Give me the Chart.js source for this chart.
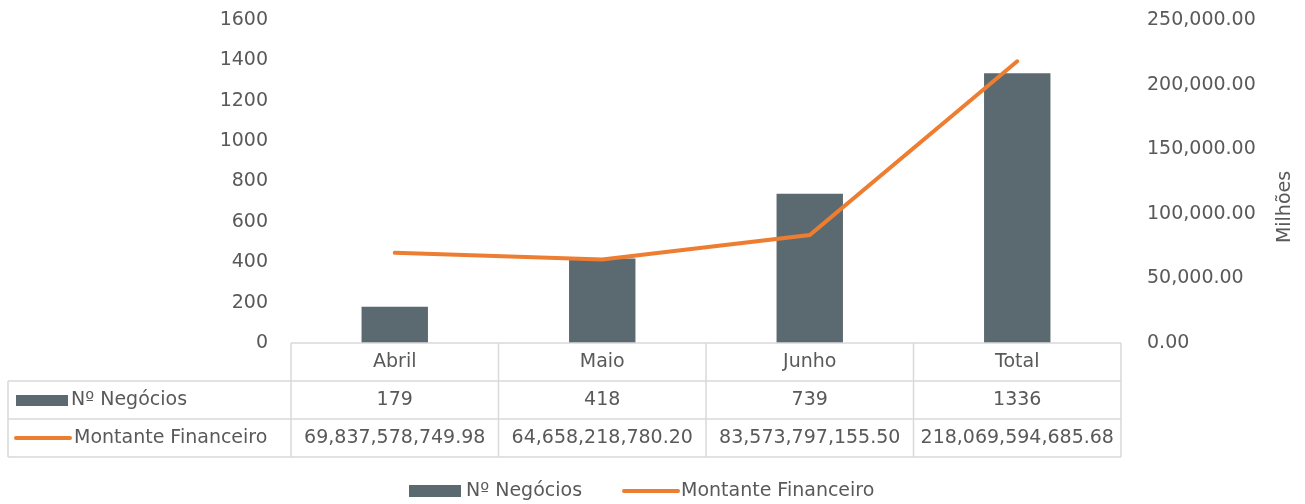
<!DOCTYPE html>
<html>
<head>
<meta charset="utf-8">
<script src="https://cdn.jsdelivr.net/npm/chart.js@4"></script>
<style>
  html, body { margin: 0; padding: 0; background: #fff; }
  #wrap { width: 1305px; height: 504px; }
</style>
</head>
<body>
<div id="wrap"><canvas id="chart" width="1305" height="504"></canvas></div>
<script>
    "use strict";

    // Dados
    var categorias = ["Abril", "Maio", "Junho", "Total"];
    var negocios = [179, 418, 739, 1336];
    var montante = [69837578749.98, 64658218780.20, 83573797155.50, 218069594685.68];
    var nomeNegocios = "Nº Negócios";
    var nomeMontante = "Montante Financeiro";
    var tituloDireita = "Milhões";

    var corBarra = "#5B6A70";
    var corLinha = "#ED7D31";
    var corTexto = "#595959";
    var corGrelha = "#D9D9D9";
    var fonte = "'DejaVu Sans', sans-serif";
    var tam = 19;

    function fmt2(v) {
        return v.toLocaleString("en-US", { minimumFractionDigits: 2, maximumFractionDigits: 2 });
    }

    // Tabela de dados + legenda desenhadas por baixo do gráfico
    var tabelaPlugin = {
        id: "tabela",
        afterDraw: function (chart) {
            var ctx = chart.ctx;
            var area = chart.chartArea;
            var x = chart.scales.x;
            var passo = area.width / categorias.length;
            var top = area.bottom, h = 38;
            var esq = 8;

            ctx.save();
            ctx.strokeStyle = corGrelha;
            ctx.lineWidth = 1.5;
            ctx.beginPath();
            ctx.moveTo(area.left, top); ctx.lineTo(area.right, top);
            for (var r = 1; r <= 3; r++) {
                ctx.moveTo(esq, top + h * r); ctx.lineTo(area.right, top + h * r);
            }
            ctx.moveTo(esq, top + h); ctx.lineTo(esq, top + h * 3);
            for (var i = 0; i <= categorias.length; i++) {
                var vx = area.left + passo * i;
                ctx.moveTo(vx, top); ctx.lineTo(vx, top + h * 3);
            }
            ctx.stroke();

            ctx.font = tam + "px " + fonte;
            ctx.fillStyle = corTexto;
            ctx.textBaseline = "middle";
            ctx.textAlign = "center";
            categorias.forEach(function (c, i) {
                var cx = x.getPixelForValue(i);
                ctx.fillText(c, cx, top + h * 0.5);
                ctx.fillText(String(negocios[i]), cx, top + h * 1.5);
                ctx.fillText(fmt2(montante[i]), cx, top + h * 2.5);
            });

            // chaves da série na tabela
            ctx.textAlign = "left";
            ctx.fillStyle = corBarra;
            ctx.fillRect(16, top + h * 1.5 - 5, 52, 11);
            ctx.fillStyle = corTexto;
            ctx.fillText(nomeNegocios, 71, top + h * 1.5);
            ctx.strokeStyle = corLinha;
            ctx.lineWidth = 4;
            ctx.lineCap = "round";
            ctx.beginPath();
            ctx.moveTo(16, top + h * 2.5); ctx.lineTo(70, top + h * 2.5);
            ctx.stroke();
            ctx.fillText(nomeMontante, 74, top + h * 2.5);

            // legenda em baixo
            var ly = 491;
            ctx.fillStyle = corBarra;
            ctx.fillRect(409, ly - 6, 52, 12);
            ctx.fillStyle = corTexto;
            ctx.fillText(nomeNegocios, 466, ly);
            ctx.beginPath();
            ctx.moveTo(624, ly); ctx.lineTo(678, ly);
            ctx.stroke();
            ctx.fillText(nomeMontante, 681, ly);

            // título do eixo direito
            ctx.translate(1285, 207);
            ctx.rotate(-Math.PI / 2);
            ctx.textAlign = "center";
            ctx.fillText(tituloDireita, 0, 0);
            ctx.restore();
        }
    };

    function fixaEixo(largura) {
        return function (s) {
            s.width = largura;
            s.paddingTop = 0;
            s.paddingBottom = 0;
        };
    }

    var ctx = document.getElementById("chart").getContext("2d");
    var grafico = new Chart(ctx, {
        data: {
            labels: categorias,
            datasets: [{
                type: "line",
                label: nomeMontante,
                data: montante.map(function (v) { return v / 1e6; }),
                yAxisID: "y2",
                borderColor: corLinha,
                borderWidth: 4,
                borderCapStyle: "round",
                pointRadius: 0,
                tension: 0,
                order: 0
            }, {
                type: "bar",
                label: nomeNegocios,
                data: negocios,
                yAxisID: "y",
                backgroundColor: corBarra,
                categoryPercentage: 1,
                barPercentage: 0.32,
                order: 1
            }]
        },
        options: {
            responsive: false,
            animation: false,
            layout: { padding: { top: 20, bottom: 161, left: 0, right: 0 } },
            plugins: { legend: { display: false }, tooltip: { enabled: false } },
            scales: {
                x: { display: false, offset: true },
                y: {
                    position: "left",
                    min: 0, max: 1600,
                    grid: { display: false, drawTicks: false },
                    border: { display: false },
                    ticks: {
                        stepSize: 200,
                        padding: 23,
                        color: corTexto,
                        font: { family: fonte, size: tam },
                        callback: function (v) { return String(v); }
                    },
                    afterFit: fixaEixo(291)
                },
                y2: {
                    position: "right",
                    min: 0, max: 250000,
                    grid: { display: false, drawTicks: false },
                    border: { display: false },
                    ticks: {
                        stepSize: 50000,
                        padding: 26,
                        color: corTexto,
                        font: { family: fonte, size: tam },
                        callback: function (v) { return fmt2(v); }
                    },
                    afterFit: fixaEixo(184)
                }
            }
        },
        plugins: [tabelaPlugin]
    });
</script>
</body>
</html>
